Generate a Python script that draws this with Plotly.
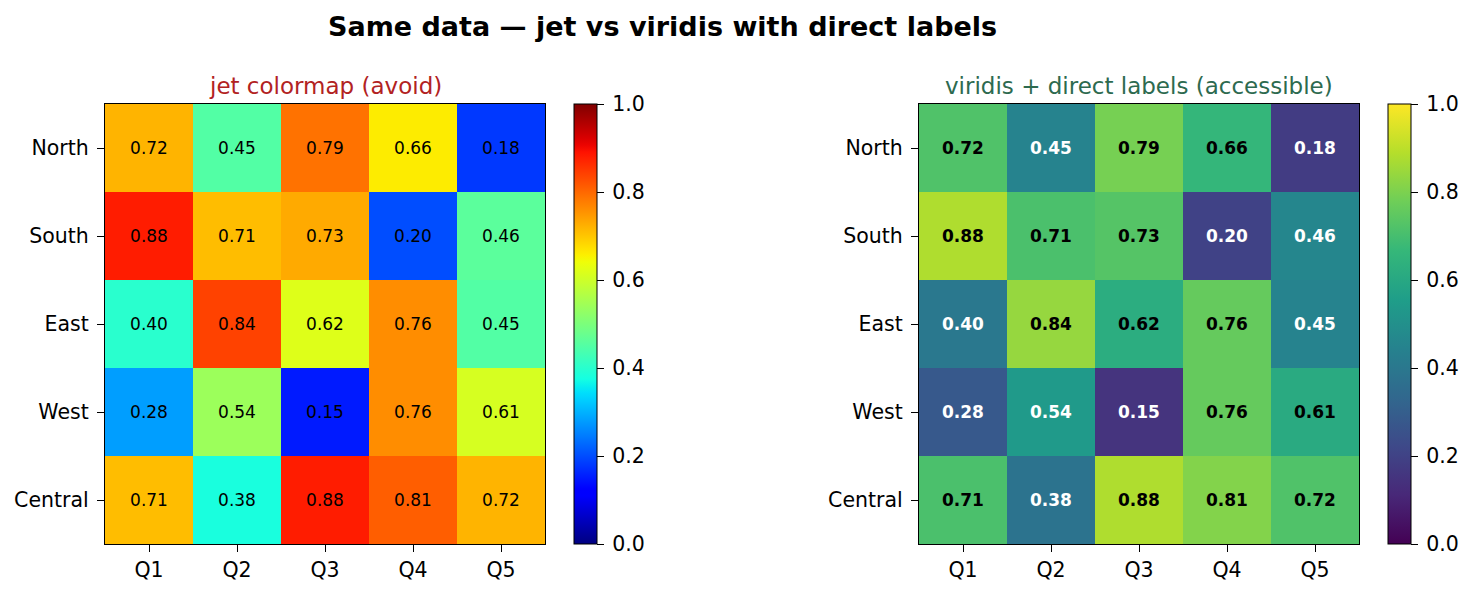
import plotly.graph_objects as go
import numpy as np

regions = ["North", "South", "East", "West", "Central"]
quarters = ["Q1", "Q2", "Q3", "Q4", "Q5"]
values = [
    [0.72, 0.45, 0.79, 0.66, 0.18],
    [0.88, 0.71, 0.73, 0.20, 0.46],
    [0.40, 0.84, 0.62, 0.76, 0.45],
    [0.28, 0.54, 0.15, 0.76, 0.61],
    [0.71, 0.38, 0.88, 0.81, 0.72],
]

# matplotlib jet colormap definition
jet_seg = {
    "r": [(0, 0), (0.35, 0), (0.66, 1), (0.89, 1), (1, 0.5)],
    "g": [(0, 0), (0.125, 0), (0.375, 1), (0.64, 1), (0.91, 0), (1, 0)],
    "b": [(0, 0.5), (0.11, 1), (0.34, 1), (0.65, 0), (1, 0)],
}
def jet_channel(ch, t):
    xs = [p[0] for p in jet_seg[ch]]
    ys = [p[1] for p in jet_seg[ch]]
    return float(np.interp(t, xs, ys))
stops = np.linspace(0, 1, 65)
jet_scale = [[float(t), "rgb(%d,%d,%d)" % tuple(round(255 * jet_channel(c, t)) for c in "rgb")] for t in stops]

W, H = 1472, 594
def fx(px): return px / W
def fy(py): return 1 - py / H

TICK = 20.5
fig = go.Figure()
cb_common = dict(thickness=23, thicknessmode="pixels", len=440, lenmode="pixels",
                 yanchor="top", y=fy(104), xanchor="left", outlinecolor="black", outlinewidth=1,
                 ticks="outside", ticklen=7, tickcolor="black", tickvals=[0, 0.2, 0.4, 0.6, 0.8, 1.0],
                 ticktext=["\u20090.0", "\u20090.2", "\u20090.4", "\u20090.6", "\u20090.8", "\u20091.0"],
                 tickfont=dict(size=TICK, color="black"), xpad=0, ypad=0)

fig.add_trace(go.Heatmap(z=values, x=quarters, y=regions, colorscale=jet_scale, zmin=0, zmax=1,
                         xaxis="x", yaxis="y", text=[[f"{v:.2f}" for v in r] for r in values],
                         texttemplate="%{text}", textfont=dict(size=17, color="black"),
                         hoverinfo="skip", colorbar=dict(x=fx(574), **cb_common)))
fig.add_trace(go.Heatmap(z=values, x=quarters, y=regions, colorscale="Viridis", zmin=0, zmax=1,
                         xaxis="x2", yaxis="y2", hoverinfo="skip",
                         colorbar=dict(x=fx(1388), **cb_common)))

for i, r in enumerate(regions):
    for j, q in enumerate(quarters):
        v = values[i][j]
        fig.add_annotation(x=q, y=r, xref="x2", yref="y2", text=f"<b>{v:.2f}</b>", showarrow=False,
                           font=dict(size=17, color="white" if v < 0.58 else "black"))

ax_common = dict(showline=True, linecolor="black", linewidth=1.3, mirror=True, ticks="outside",
                 ticklen=7, tickcolor="black", tickfont=dict(size=TICK, color="black"), showgrid=False,
                 zeroline=False)
fig.update_layout(
    width=W, height=H, margin=dict(l=0, r=0, t=0, b=0), paper_bgcolor="white", plot_bgcolor="white",
    font=dict(family="DejaVu Sans", color="black"),
    xaxis=dict(domain=[fx(105), fx(545)], anchor="y", ticklabelstandoff=0, **ax_common),
    yaxis=dict(domain=[fy(544), fy(104)], anchor="x", autorange="reversed", ticklabelstandoff=4, **ax_common),
    xaxis2=dict(domain=[fx(919), fx(1359)], anchor="y2", ticklabelstandoff=0, **ax_common),
    yaxis2=dict(domain=[fy(544), fy(104)], anchor="x2", autorange="reversed", ticklabelstandoff=4, **ax_common),
    showlegend=False,
)
fig.add_annotation(text="<b>Same data — jet vs viridis with direct labels</b>", xref="paper", yref="paper",
                   x=fx(662), y=fy(26), xanchor="center", yanchor="middle", showarrow=False,
                   font=dict(size=27, color="black"))
fig.add_annotation(text="jet colormap (avoid)", xref="paper", yref="paper", x=fx(325), y=fy(86),
                   xanchor="center", yanchor="middle", showarrow=False, font=dict(size=23, color="#b22222"))
fig.add_annotation(text="viridis + direct labels (accessible)", xref="paper", yref="paper", x=fx(1139), y=fy(86),
                   xanchor="center", yanchor="middle", showarrow=False, font=dict(size=23, color="#2d6a4f"))

fig.write_html("out.html")
